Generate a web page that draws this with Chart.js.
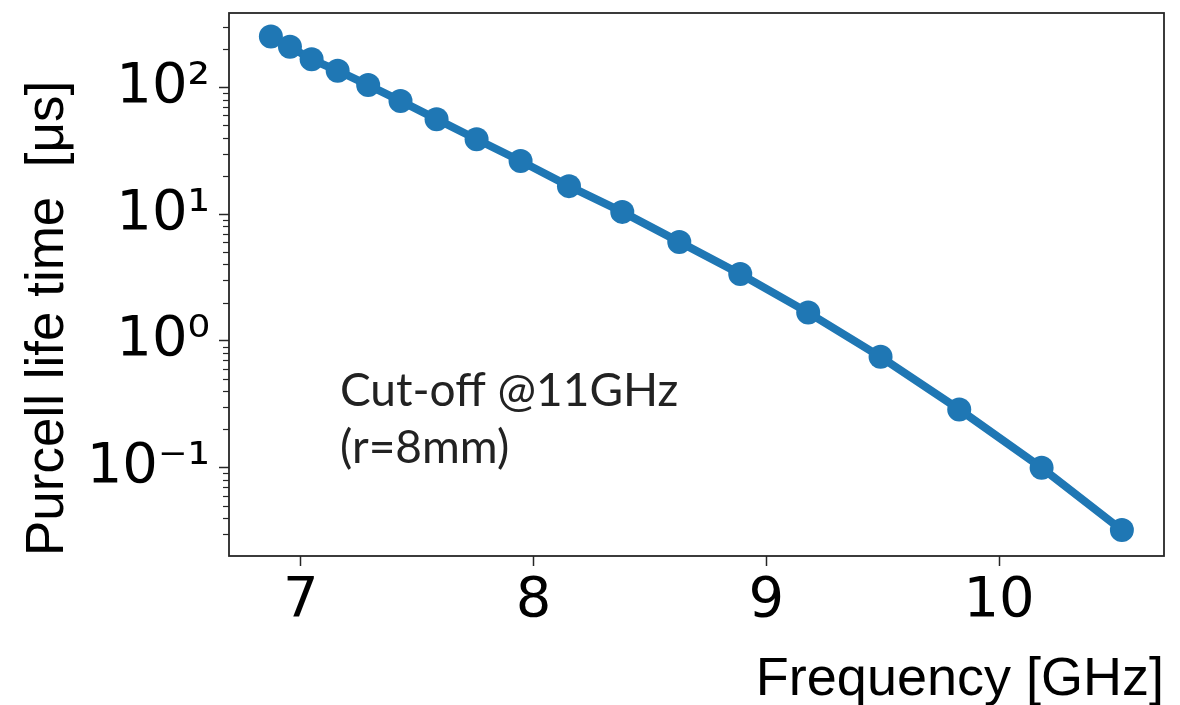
<!DOCTYPE html>
<html><head><meta charset="utf-8">
<script src="https://cdn.jsdelivr.net/npm/chart.js@4.4.1/dist/chart.umd.min.js"></script>
<style>html,body{margin:0;padding:0;background:#fff;}canvas{display:block;}</style>
</head><body>
<canvas id="c" width="1180" height="705"></canvas>
<script>
// ---- data ----
const frequencies = [6.871, 6.953, 7.046, 7.158, 7.289, 7.428, 7.583, 7.755, 7.944, 8.152, 8.381, 8.626, 8.888, 9.180, 9.491, 9.829, 10.183, 10.528];
const lifetimes   = [251, 209, 166, 135, 104, 78, 56, 38.9, 26.2, 16.6, 10.4, 6.03, 3.37, 1.67, 0.748, 0.288, 0.0998, 0.0322];
const xTicks = [7, 8, 9, 10];
const yTicks = [0.1, 1, 10, 100];
const yTickLabels = ['10\u207B\u00B9', '10\u2070', '10\u00B9', '10\u00B2'];
const annotationLines = ['Cut-off @11GHz', '(r=8mm)'];
const xTitle = 'Frequency [GHz]';
const yTitle = 'Purcell life time  [\u03BCs]';

// ---- layout / style ----
const X_MIN = 6.691, X_MAX = 10.709;
const Y_MIN = 0.0201, Y_MAX = 385;
const ANNO_X = 7.168, ANNO_Y = [0.306, 0.1086];
const BLUE = '#1f77b4';
const INK = '#262626';

const framePlugin = {
  id: 'frame',
  afterDraw(chart) {
    const {ctx, chartArea: a, scales} = chart;
    const y = scales.y;
    ctx.save();
    // minor ticks on log axis
    ctx.strokeStyle = INK; ctx.lineWidth = 1.2;
    for (let n = -3; n <= 3; n++) {
      for (let m = 2; m <= 9; m++) {
        const v = m * Math.pow(10, n);
        if (v < Y_MIN || v > Y_MAX) continue;
        const py = Math.round(y.getPixelForValue(v)) + 0.5;
        ctx.beginPath(); ctx.moveTo(a.left - 6, py); ctx.lineTo(a.left, py); ctx.stroke();
      }
    }
    // frame
    ctx.lineWidth = 1.8; ctx.strokeStyle = INK;
    ctx.strokeRect(a.left, a.top, a.right - a.left, a.bottom - a.top);
    // annotation
    ctx.fillStyle = '#222';
    ctx.font = '400 46px Lato, "Open Sans", sans-serif';
    ctx.textAlign = 'left'; ctx.textBaseline = 'alphabetic';
    const px = scales.x.getPixelForValue(ANNO_X);
    annotationLines.forEach((t, i) => ctx.fillText(t, px, y.getPixelForValue(ANNO_Y[i])));
    ctx.restore();
  }
};

new Chart(document.getElementById('c'), {
  type: 'line',
  data: {
    datasets: [{
      data: frequencies.map((f, i) => ({x: f, y: lifetimes[i]})),
      borderColor: BLUE, backgroundColor: BLUE,
      borderWidth: 8, pointRadius: 12, pointHoverRadius: 12,
      pointBorderWidth: 0, pointBackgroundColor: BLUE,
      tension: 0, fill: false
    }]
  },
  options: {
    responsive: false, animation: false,
    events: [],
    layout: {padding: {left: 0, right: 16, top: 13, bottom: 0}},
    plugins: {legend: {display: false}, tooltip: {enabled: false}},
    scales: {
      x: {
        type: 'linear', min: X_MIN, max: X_MAX,
        afterBuildTicks: s => { s.ticks = xTicks.map(v => ({value: v})); },
        afterFit: s => { s.height = 149; s.paddingLeft = 0; s.paddingRight = 0; },
        ticks: {autoSkip: false, maxRotation: 0, padding: 2, color: '#000',
          font: {family: '"DejaVu Sans"', size: 56},
          callback: v => String(v)},
        grid: {display: true, drawOnChartArea: false, drawTicks: true, tickLength: 10, tickWidth: 1.5, tickColor: INK},
        border: {display: false},
        title: {display: true, text: xTitle, align: 'end', color: '#000',
          font: {family: '"Liberation Sans", Arial, sans-serif', size: 54, lineHeight: 0.93},
          padding: {top: 0, bottom: 0}}
      },
      y: {
        type: 'logarithmic', min: Y_MIN, max: Y_MAX,
        afterBuildTicks: s => { s.ticks = yTicks.map(v => ({value: v})); },
        afterFit: s => { s.width = 229; s.paddingTop = 0; s.paddingBottom = 0; },
        ticks: {autoSkip: false, padding: 9, color: '#000',
          font: {family: '"DejaVu Sans"', size: 56},
          callback: v => yTickLabels[yTicks.indexOf(v)]},
        grid: {display: true, drawOnChartArea: false, drawTicks: true, tickLength: 10, tickWidth: 1.5, tickColor: INK},
        border: {display: false},
        title: {display: true, text: yTitle, align: 'start', color: '#000',
          font: {family: '"Liberation Sans", Arial, sans-serif', size: 53, lineHeight: 1.2},
          padding: {top: 17, bottom: 0}}
      }
    }
  },
  plugins: [framePlugin]
});
</script>
</body></html>
